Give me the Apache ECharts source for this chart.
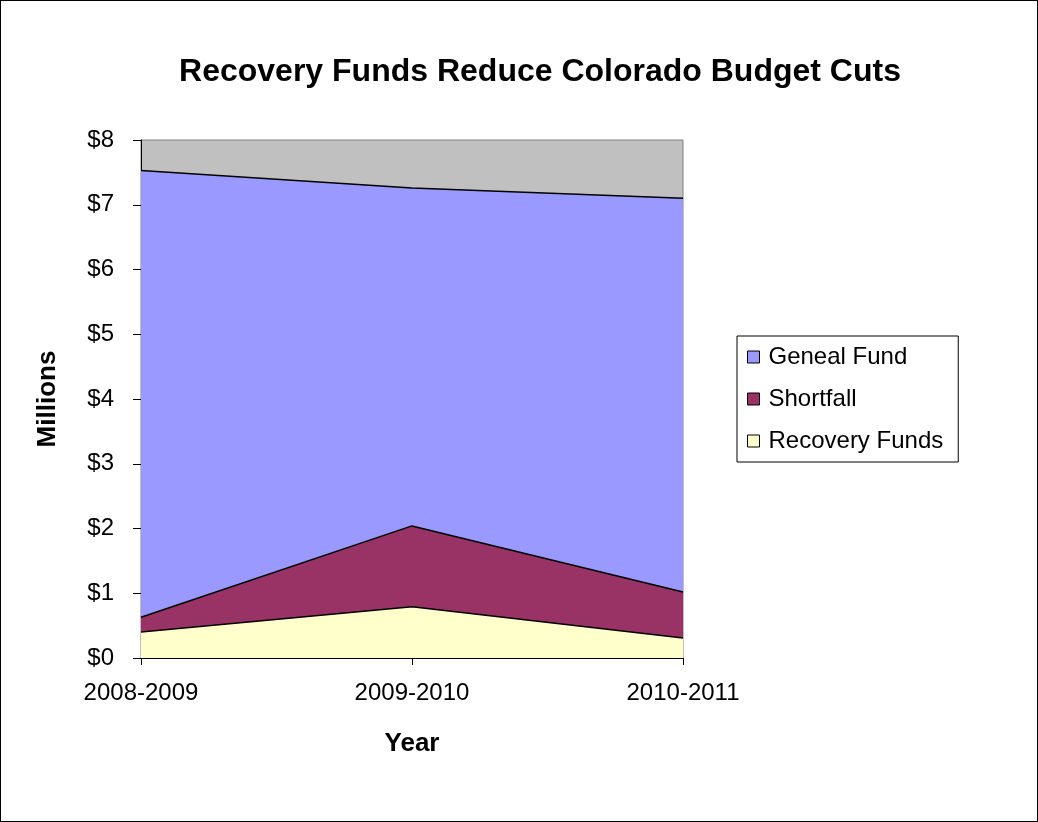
<!DOCTYPE html>
<html>
<head>
<meta charset="utf-8">
<script src="https://cdn.jsdelivr.net/npm/echarts@6/dist/echarts.min.js"></script>
<style>
  html, body { margin: 0; padding: 0; background: #fff; }
  #chart { width: 1038px; height: 822px; box-sizing: border-box; border: 1px solid #000; }
</style>
</head>
<body>
<div id="chart"></div>
<script>
// values (millions)
const years = ['2008-2009', '2009-2010', '2010-2011'];
const recoveryFunds = [0.40, 0.79, 0.31];
const shortfall = [0.23, 1.25, 0.71];
const generalFund = [6.90, 5.22, 6.08];
const yTicks = ['$0', '$1', '$2', '$3', '$4', '$5', '$6', '$7', '$8'];

const font = 'Liberation Sans, Arial, sans-serif';

const chart = echarts.init(document.getElementById('chart'));

const areaSeries = (name, data, color) => ({
  name: name,
  type: 'line',
  stack: 'total',
  data: data,
  symbol: 'none',
  lineStyle: { color: '#000', width: 1.5 },
  itemStyle: { color: color, borderColor: '#000', borderWidth: 1 },
  areaStyle: { color: color, opacity: 1 },
});

chart.setOption({
  animation: false,
  title: {
    text: 'Recovery Funds Reduce Colorado Budget Cuts',
    left: 534,
    top: 50,
    textAlign: 'center',
    textStyle: { fontFamily: font, fontSize: 32, fontWeight: 'bold', color: '#000' },
  },
  legend: {
    orient: 'vertical',
    left: 736,
    top: 335,
    padding: [9, 15, 9, 10],
    itemGap: 18,
    itemWidth: 12,
    itemHeight: 12,
    icon: 'rect',
    borderColor: '#000',
    borderWidth: 1,
    data: ['Geneal Fund', 'Shortfall', 'Recovery Funds'],
    itemStyle: { borderColor: '#000', borderWidth: 1 },
    textStyle: { fontFamily: font, fontSize: 24, color: '#000', padding: [0, 0, 0, 4] },
  },
  grid: {
    left: 140,
    top: 139,
    width: 542,
    height: 518,
    show: true,
    backgroundColor: '#C0C0C0',
    borderColor: '#808080',
    borderWidth: 1,
  },
  xAxis: {
    type: 'category',
    data: years,
    boundaryGap: false,
    name: 'Year',
    nameLocation: 'center',
    nameGap: 73,
    nameTextStyle: { fontFamily: font, fontSize: 26, fontWeight: 'bold', color: '#000' },
    axisLine: { lineStyle: { color: '#000', width: 1 } },
    axisTick: { show: true, length: 7, lineStyle: { color: '#000' } },
    axisLabel: { fontFamily: font, fontSize: 24, color: '#000', margin: 23 },
    splitLine: { show: false },
  },
  yAxis: {
    type: 'value',
    min: 0,
    max: 8,
    interval: 1,
    name: 'Millions',
    nameLocation: 'center',
    nameGap: 80,
    nameTextStyle: { fontFamily: font, fontSize: 26, fontWeight: 'bold', color: '#000' },
    axisLine: { show: true, lineStyle: { color: '#000', width: 1 } },
    axisTick: { show: true, length: 8, lineStyle: { color: '#000' } },
    axisLabel: {
      fontFamily: font, fontSize: 24, color: '#000', margin: 27,
      formatter: (v) => yTicks[v],
    },
    splitLine: { show: false },
  },
  series: [
    areaSeries('Recovery Funds', recoveryFunds, '#FFFFCC'),
    areaSeries('Shortfall', shortfall, '#993366'),
    areaSeries('Geneal Fund', generalFund, '#9999FF'),
  ],
});
</script>
</body>
</html>
